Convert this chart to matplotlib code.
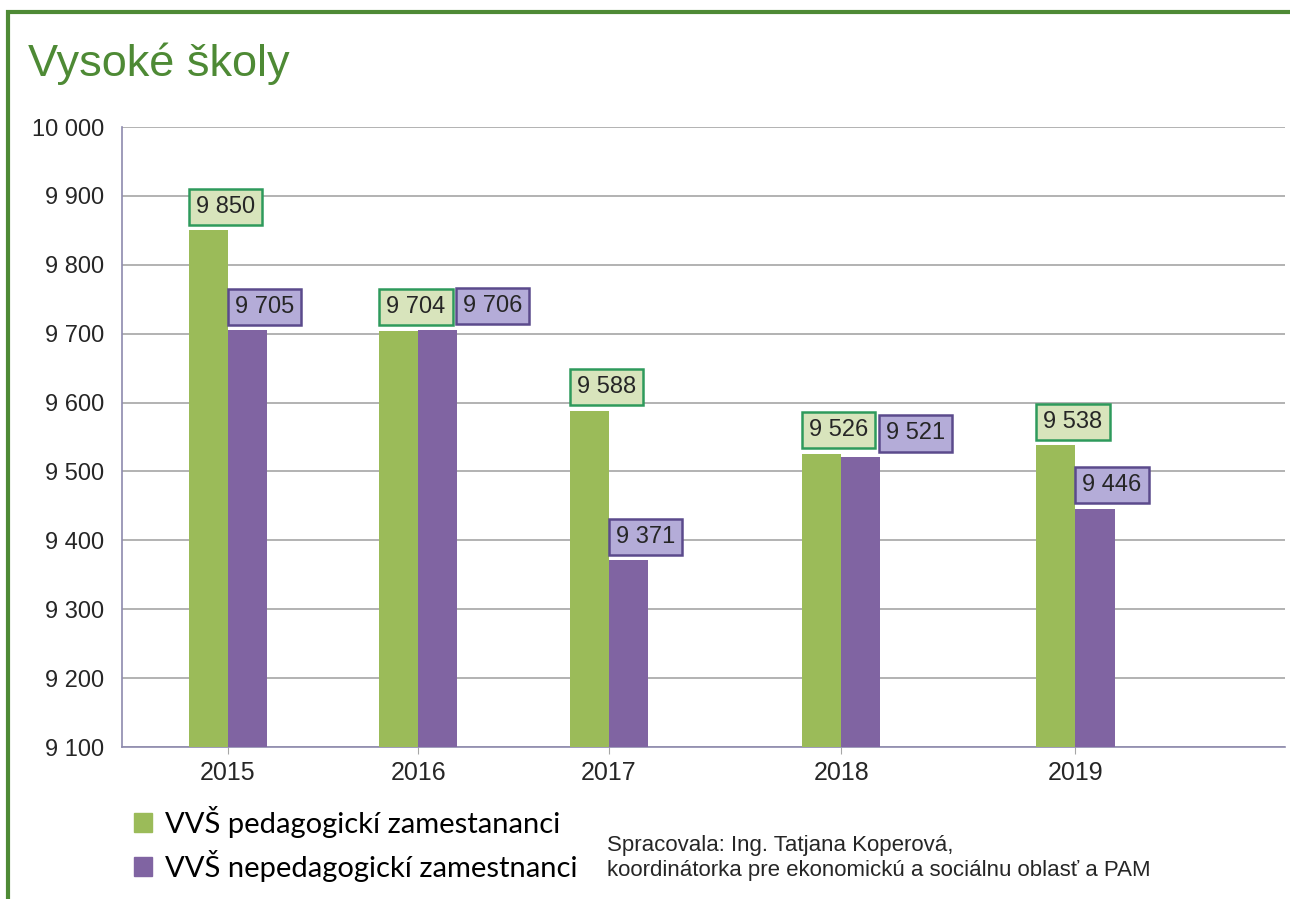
import numpy as np
import matplotlib
matplotlib.use("Agg")
import matplotlib.pyplot as plt
import matplotlib.patches as mpatches
from matplotlib.lines import Line2D

years = ["2015", "2016", "2017", "2018", "2019"]
pedagogicki = [9850, 9704, 9588, 9526, 9538]
nepedagogicki = [9705, 9706, 9371, 9521, 9446]
y_ticks = [9100, 9200, 9300, 9400, 9500, 9600, 9700, 9800, 9900, 10000]

series_names = ["VVŠ pedagogickí zamestananci", "VVŠ nepedagogickí zamestnanci"]
title = "Vysoké školy"
note = "Spracovala: Ing. Tatjana Koperová,\nkoordinátorka pre ekonomickú a sociálnu oblasť a PAM"

# layout (group centres are not evenly spaced in the original)
group_pos = [0, 1.0, 2.0, 3.22, 4.45]
bar_w = 0.205
shift_b = [0, 27, 0, 27, 0]  # extra label shift for purple boxes (pt)

GREEN = "#9bbb59"
PURPLE = "#8064a2"
FRAME = "#4e8a35"

plt.rcParams["font.family"] = ["Liberation Sans", "DejaVu Sans"]

fig = plt.figure(figsize=(12.9, 8.99), dpi=100)
ax = fig.add_axes([122 / 1290, 152 / 899, 1163 / 1290, 620 / 899])

x = np.array(group_pos)
ax.bar(x - bar_w / 2, pedagogicki, width=bar_w, color=GREEN, zorder=3)
ax.bar(x + bar_w / 2, nepedagogicki, width=bar_w, color=PURPLE, zorder=3)

def fmt(v):
    return "{:,}".format(v).replace(",", " ")

for i in range(len(years)):
    ax.annotate(fmt(pedagogicki[i]), xy=(x[i] - bar_w, pedagogicki[i]),
                xytext=(5, 9), textcoords="offset points", ha="left", va="bottom",
                fontsize=17, color="#262626", zorder=5,
                bbox=dict(boxstyle="square,pad=0.3", fc="#d8e4bc", ec="#2e9a5c", lw=1.8))
    ax.annotate(fmt(nepedagogicki[i]), xy=(x[i], nepedagogicki[i]),
                xytext=(5 + shift_b[i], 9), textcoords="offset points", ha="left", va="bottom",
                fontsize=17, color="#262626", zorder=5,
                bbox=dict(boxstyle="square,pad=0.3", fc="#b4acd8", ec="#5b4a8c", lw=1.8))

ax.set_ylim(9100, 10000)
ax.set_yticks(y_ticks)
ax.set_yticklabels([fmt(v) for v in y_ticks])
ax.set_xlim(-0.556, 5.55)
ax.set_xticks(x)
ax.set_xticklabels(years)
ax.tick_params(axis="y", length=0, pad=13, labelsize=17, labelcolor="#262626")
ax.tick_params(axis="x", length=5, color="#a6a6a6", pad=5, labelsize=18, labelcolor="#262626")
ax.yaxis.grid(True, color="#a6a6a6", lw=1.2, zorder=0)
ax.set_axisbelow(True)
for s in ["top", "right"]:
    ax.spines[s].set_visible(False)
for s in ["left", "bottom"]:
    ax.spines[s].set_color("#8e8aae")
    ax.spines[s].set_linewidth(1.2)

# title and frame
fig.text(28 / 1290, 1 - 76 / 899, title, fontsize=32.5, color=FRAME, va="baseline", ha="left")
fig.add_artist(Line2D([7.5 / 1290, 7.5 / 1290, 1], [0, 1 - 11.5 / 899, 1 - 11.5 / 899],
                      transform=fig.transFigure, color=FRAME, lw=3, solid_joinstyle="miter"))

# legend
handles = [mpatches.Patch(color=GREEN, label=series_names[0]),
           mpatches.Patch(color=PURPLE, label=series_names[1])]
fig.legend(handles=handles, loc="upper left", bbox_to_anchor=(134 / 1290, 1 - 806 / 899),
           frameon=False, prop={"family": "Lato", "size": 21}, handlelength=0.6, handleheight=0.6,
           handletextpad=0.45, labelspacing=0.4, borderpad=0, borderaxespad=0)

fig.text(607 / 1290, 1 - 858 / 899, note, fontsize=16, color="#262626", va="center",
         ha="left", linespacing=1.3)

fig.savefig("out.png", dpi=100)
